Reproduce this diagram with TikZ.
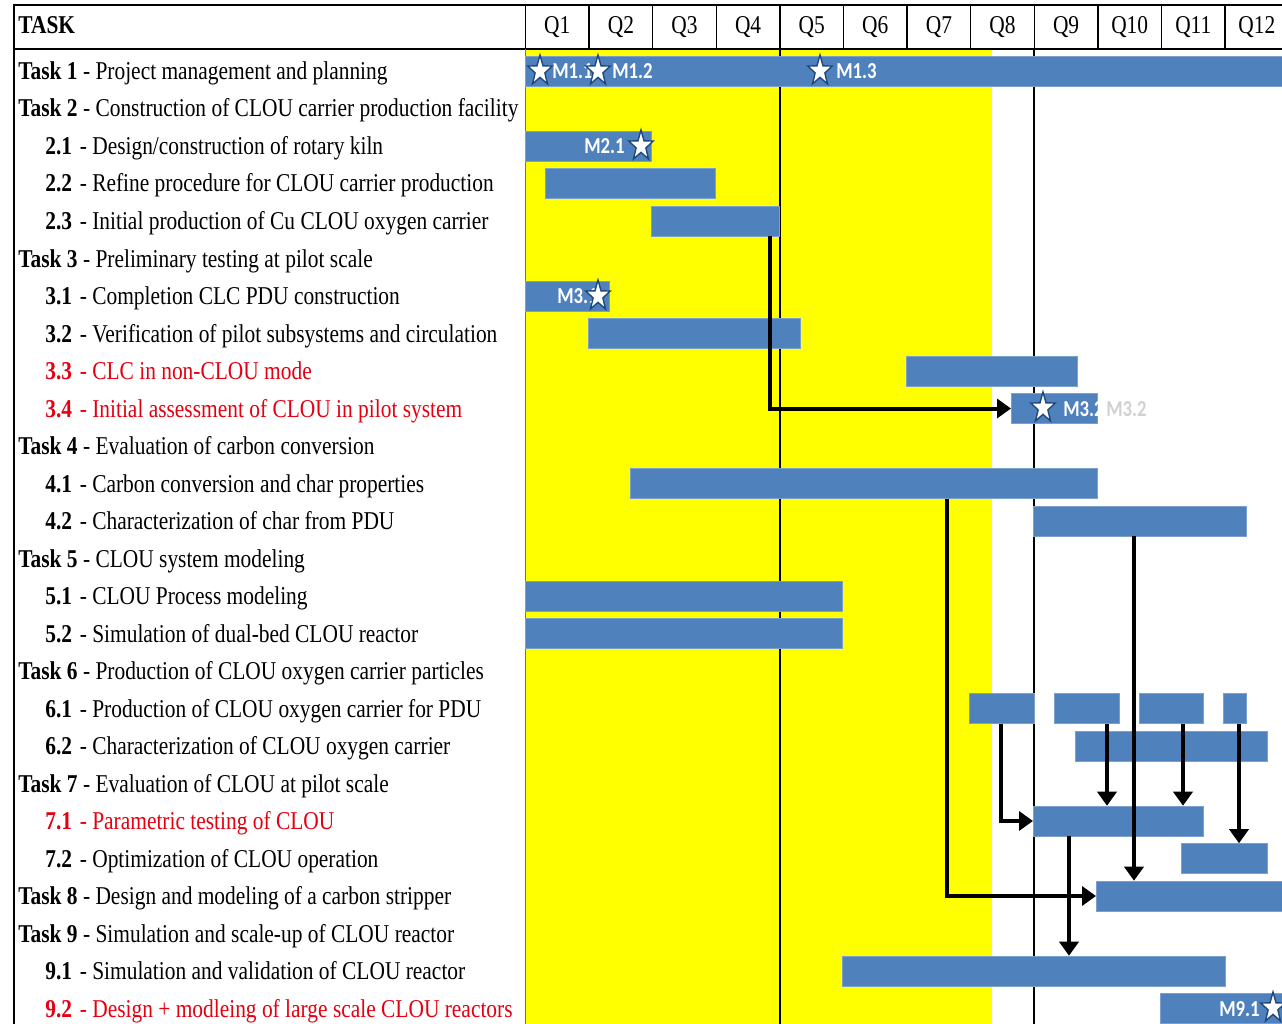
\documentclass[tikz,border=0pt]{standalone}
\usepackage{fontspec}
\setmainfont{Liberation Serif}[FakeStretch=0.835]
\newfontfamily\msfont{Carlito}[FakeStretch=0.82]
\usetikzlibrary{arrows.meta,calc}
\definecolor{barblue}{RGB}{79,129,189}
\definecolor{starblue}{RGB}{31,73,125}
\definecolor{hiyellow}{RGB}{255,255,0}
\definecolor{taskred}{RGB}{228,0,16}

\tikzset{
  row/.style={anchor=base west, inner sep=0pt, font=\fontsize{14.6}{16}\selectfont},
  late/.style={row, text=taskred},
  qhead/.style={anchor=base, inner sep=0pt, font=\fontsize{14.6}{16}\selectfont},
  barbox/.style={fill=barblue, draw=barblue!75!white, line width=0.3pt, inner sep=0pt, minimum height=0.6cm, anchor=west},
  mlabel/.style={anchor=base west, inner sep=0pt, text=white, font=\msfont\bfseries\fontsize{13}{14}\selectfont},
  dep/.style={line width=0.08cm, -{Triangle[length=0.28cm,width=0.38cm]}},
  gridline/.style={line width=0.03cm},
  mstar/.pic={
    \draw[fill=white, draw=starblue, line width=0.8pt]
      (0,-16) \foreach \k in {1,...,9} {
        -- ({0.8*sin(36*\k)*(16-9.6*mod(\k,2))}, {-cos(36*\k)*(16-9.6*mod(\k,2))})
      } -- cycle;
  }
}

% name, row, from, to
\newcommand\ganttbar[4]{%
  \pgfmathsetmacro\barlen{(#4-#3)*0.02}%
  \node[barbox, minimum width=\barlen cm] (#1) at (#3,{71+37.5*#2}) {};%
}
\newcommand\numgap{\hspace{0.3em}}

\begin{document}
\begin{tikzpicture}[x=0.02cm, y=-0.02cm]
%%%%% START %%%%%
\useasboundingbox (0,0) rectangle (1282,1024);

\fill[hiyellow] (525,49) rectangle (992,1024);

% frame and grid
\draw[line width=0.04cm] (14,5) -- (1282,5);
\draw[line width=0.04cm] (14,49) -- (1282,49);
\draw[line width=0.04cm] (14,4) -- (14,1024);
\foreach \q in {0,...,11}
  \draw[gridline] ({525.5+63.6*\q},5) -- ({525.5+63.6*\q},49);
\draw[gridline, black!55] (525.5,49) -- (525.5,1024);
\draw[gridline] (780,49) -- (780,1024);
\draw[gridline] (1034,49) -- (1034,1024);

% header
\node[row] (head) at (18,34) {\textbf{TASK}};
\foreach \q in {1,...,12}
  \node[qhead] (q\q) at ({525.5+63.6*(\q-0.5)},34) {Q\q};

% task list
\node[row] (t1) at (18,79.5) {\textbf{Task 1} - Project management and planning};
\node[row] (t2) at (18,117) {\textbf{Task 2} - Construction of CLOU carrier production facility};
\node[row] (s21) at (45,154.5) {\textbf{2.1}\numgap- Design/construction of rotary kiln};
\node[row] (s22) at (45,192) {\textbf{2.2}\numgap- Refine procedure for CLOU carrier production};
\node[row] (s23) at (45,229.5) {\textbf{2.3}\numgap- Initial production of Cu CLOU oxygen carrier};
\node[row] (t3) at (18,267) {\textbf{Task 3} - Preliminary testing at pilot scale};
\node[row] (s31) at (45,304.5) {\textbf{3.1}\numgap- Completion CLC PDU construction};
\node[row] (s32) at (45,342) {\textbf{3.2}\numgap- Verification of pilot subsystems and circulation};
\node[late] (s33) at (45,379.5) {\textbf{3.3}\numgap- CLC in non-CLOU mode};
\node[late] (s34) at (45,417) {\textbf{3.4}\numgap- Initial assessment of CLOU in pilot system};
\node[row] (t4) at (18,454.5) {\textbf{Task 4} - Evaluation of carbon conversion};
\node[row] (s41) at (45,492) {\textbf{4.1}\numgap- Carbon conversion and char properties};
\node[row] (s42) at (45,529.5) {\textbf{4.2}\numgap- Characterization of char from PDU};
\node[row] (t5) at (18,567) {\textbf{Task 5} - CLOU system modeling};
\node[row] (s51) at (45,604.5) {\textbf{5.1}\numgap- CLOU Process modeling};
\node[row] (s52) at (45,642) {\textbf{5.2}\numgap- Simulation of dual-bed CLOU reactor};
\node[row] (t6) at (18,679.5) {\textbf{Task 6} - Production of CLOU oxygen carrier particles};
\node[row] (s61) at (45,717) {\textbf{6.1}\numgap- Production of CLOU oxygen carrier for PDU};
\node[row] (s62) at (45,754.5) {\textbf{6.2}\numgap- Characterization of CLOU oxygen carrier};
\node[row] (t7) at (18,792) {\textbf{Task 7} - Evaluation of CLOU at pilot scale};
\node[late] (s71) at (45,829.5) {\textbf{7.1}\numgap- Parametric testing of CLOU};
\node[row] (s72) at (45,867) {\textbf{7.2}\numgap- Optimization of CLOU operation};
\node[row] (t8) at (18,904.5) {\textbf{Task 8} - Design and modeling of a carbon stripper};
\node[row] (t9) at (18,942) {\textbf{Task 9} - Simulation and scale-up of CLOU reactor};
\node[row] (s91) at (45,979.5) {\textbf{9.1}\numgap- Simulation and validation of CLOU reactor};
\node[late] (s92) at (45,1017) {\textbf{9.2}\numgap- Design + modleing of large scale CLOU reactors};

% bars
\ganttbar{b1}{0}{525}{1282}
\ganttbar{b21}{2}{525}{651}
\ganttbar{b22}{3}{545}{715}
\ganttbar{b23}{4}{651}{779}
\ganttbar{b31}{6}{525}{609}
\ganttbar{b32}{7}{588}{800}
\ganttbar{b33}{8}{906}{1077}
\ganttbar{b34}{9}{1011}{1097}
\ganttbar{b41}{11}{630}{1097}
\ganttbar{b42}{12}{1033}{1246}
\ganttbar{b51}{14}{525}{842}
\ganttbar{b52}{15}{525}{842}
\ganttbar{b61a}{17}{969}{1034}
\ganttbar{b61b}{17}{1054}{1119}
\ganttbar{b61c}{17}{1139}{1203}
\ganttbar{b61d}{17}{1223}{1246}
\ganttbar{b62}{18}{1075}{1267}
\ganttbar{b71}{20}{1033}{1203}
\ganttbar{b72}{21}{1181}{1267}
\ganttbar{b8}{22}{1096}{1282}
\ganttbar{b91}{24}{842}{1225}
\ganttbar{b92}{25}{1160}{1282}

% dependencies
\draw[dep] (b23.south -| 770,0) |- (b34.west);
\draw[dep] (b41.south -| 947,0) |- (b8.west);
\draw[dep] (b42.south -| 1134,0) -- (b8.north -| 1134,0);
\draw[dep] (b61a.south -| 1001,0) |- (b71.west);
\draw[dep] (b61b.south -| 1107,0) -- (b71.north -| 1107,0);
\draw[dep] (b61c.south -| 1183,0) -- (b71.north -| 1183,0);
\draw[dep] (b61d.south -| 1239,0) -- (b72.north -| 1239,0);
\draw[dep] (b71.south -| 1069,0) -- (b91.north -| 1069,0);

% milestones
\node[mlabel] (m11) at (552,78.5) {M1.1};
\pic at (540,71) {mstar};
\pic at (598,71) {mstar};
\node[mlabel] (m12) at (612,78.5) {M1.2};
\pic at (820,71) {mstar};
\node[mlabel] (m13) at (836,78.5) {M1.3};
\node[mlabel] (m21) at (584,153.5) {M2.1};
\pic at (641,146) {mstar};
\node[mlabel] (m31) at (557,303.5) {M3.1};
\pic at (598,296) {mstar};
\pic at (1043,408) {mstar};
\node[mlabel] (m32) at (1063,416) {M3.2};
\node[mlabel, text=black!18] (m32b) at (1106,416) {M3.2};
\node[mlabel] (m91) at (1219,1016) {M9.1};
\pic at (1273,1008) {mstar};
%%%%% END %%%%%
\end{tikzpicture}
\end{document}
